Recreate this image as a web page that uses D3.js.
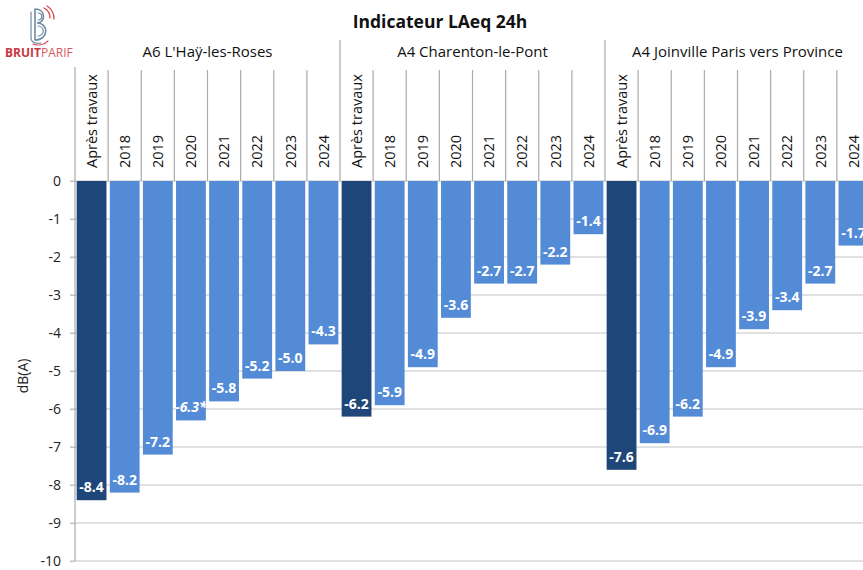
<!DOCTYPE html>
<html>
<head>
<meta charset="utf-8">
<script src="https://cdn.jsdelivr.net/npm/d3@7"></script>
<style>
  html, body { margin: 0; padding: 0; background: #fff; overflow: hidden; }
  svg { display: block; font-family: "Open Sans", sans-serif; }
</style>
</head>
<body>
<svg id="chart" width="863" height="570"></svg>
<script>
// ---- data ----
const title = "Indicateur LAeq 24h";
const yAxisLabel = "dB(A)";
const groups = ["A6 L'Haÿ-les-Roses", "A4 Charenton-le-Pont", "A4 Joinville Paris vers Province"];
const periods = ["Après travaux", "2018", "2019", "2020", "2021", "2022", "2023", "2024"];
const valuesA6Hay = [-8.4, -8.2, -7.2, -6.3, -5.8, -5.2, -5.0, -4.3];
const valuesA4Charenton = [-6.2, -5.9, -4.9, -3.6, -2.7, -2.7, -2.2, -1.4];
const valuesA4Joinville = [-7.6, -6.9, -6.2, -4.9, -3.9, -3.4, -2.7, -1.7];
const notesA6Hay = ["", "", "", "*", "", "", "", ""];
const notesA4Charenton = ["", "", "", "", "", "", "", ""];
const notesA4Joinville = ["", "", "", "", "", "", "", ""];
const yTicks = [0, -1, -2, -3, -4, -5, -6, -7, -8, -9, -10];

const seriesValues = [valuesA6Hay, valuesA4Charenton, valuesA4Joinville];
const seriesNotes = [notesA6Hay, notesA4Charenton, notesA4Joinville];
const rows = [];
groups.forEach((g, gi) => periods.forEach((p, pi) => {
  rows.push({ key: gi + "|" + pi, group: g, gi, period: p, pi,
              value: seriesValues[gi][pi], note: seriesNotes[gi][pi] });
}));

// ---- layout ----
const svg = d3.select("#chart");
const W = 863;
const left = 75, right = 870, top0 = 181, bottom = 561;
const darkBlue = "#1f4679", lightBlue = "#538bd6";
const gridColor = "#c4c4c4", sepColor = "#ababab";

const xCell = d3.scaleBand().domain(rows.map(d => d.key)).range([left, right]).padding(0);
const xBar = d3.scaleBand().domain(rows.map(d => d.key)).range([left, right])
  .paddingInner(0.1).paddingOuter(0.05);
const y = d3.scaleLinear().domain([-10, 0]).range([bottom, top0]);
const fmt = v => (v < 0 ? "-" : "") + Math.abs(v).toFixed(1);

// gridlines
svg.append("g").selectAll("line").data(yTicks).join("line")
  .attr("x1", left - 5).attr("x2", W).attr("y1", d => y(d)).attr("y2", d => y(d))
  .attr("stroke", gridColor).attr("stroke-width", 1.2);

// y axis
const yAxis = d3.axisLeft(y).tickValues(yTicks).tickSize(5).tickPadding(9);
const gy = svg.append("g").attr("transform", `translate(${left},0)`).call(yAxis);
gy.select(".domain").remove();
gy.selectAll(".tick line").attr("stroke", gridColor).attr("stroke-width", 1.2);
gy.selectAll(".tick text").attr("font-size", 14).attr("fill", "#222")
  .attr("font-family", "Open Sans, sans-serif").text(d => d === 0 ? "0" : "-" + Math.abs(d));

// bars
svg.append("g").selectAll("rect").data(rows).join("rect")
  .attr("x", d => xBar(d.key)).attr("width", xBar.bandwidth())
  .attr("y", y(0)).attr("height", d => y(d.value) - y(0))
  .attr("fill", d => d.pi === 0 ? darkBlue : lightBlue);

// value labels
svg.append("g").selectAll("text").data(rows).join("text")
  .attr("x", d => xBar(d.key) + xBar.bandwidth() / 2)
  .attr("y", d => y(d.value) - 8)
  .attr("text-anchor", "middle")
  .attr("font-size", 14).attr("font-weight", "bold").attr("fill", "#fff")
  .attr("font-style", d => d.note ? "italic" : "normal")
  .text(d => fmt(d.value) + d.note);

// axis vertical line
svg.append("line").attr("x1", left).attr("x2", left).attr("y1", 67).attr("y2", bottom)
  .attr("stroke", sepColor).attr("stroke-width", 1.2);

// category separators (top area)
const sepRows = rows.filter(d => d.pi > 0);
svg.append("g").selectAll("line").data(sepRows).join("line")
  .attr("x1", d => xCell(d.key)).attr("x2", d => xCell(d.key))
  .attr("y1", 70).attr("y2", top0)
  .attr("stroke", sepColor).attr("stroke-width", 1.2);
// group separators
const groupStarts = rows.filter(d => d.pi === 0 && d.gi > 0);
svg.append("g").selectAll("line").data(groupStarts).join("line")
  .attr("x1", d => xCell(d.key)).attr("x2", d => xCell(d.key))
  .attr("y1", 40).attr("y2", top0)
  .attr("stroke", sepColor).attr("stroke-width", 1.2);

// category labels (rotated, reading bottom to top)
svg.append("g").selectAll("text").data(rows).join("text")
  .attr("transform", d => `translate(${xCell(d.key) + xCell.bandwidth() / 2},168) rotate(-90)`)
  .attr("text-anchor", "start").attr("dy", "0.36em")
  .attr("font-size", 14.5).attr("fill", "#111")
  .text(d => d.period);

// group labels
svg.append("g").selectAll("text").data(groups).join("text")
  .attr("x", (g, gi) => {
    const a = xCell(gi + "|0"), b = xCell(gi + "|" + (periods.length - 1)) + xCell.bandwidth();
    return (a + b) / 2;
  })
  .attr("y", 57).attr("text-anchor", "middle")
  .attr("font-size", 15).attr("fill", "#111")
  .text(d => d);

// title
svg.append("text").attr("x", 440).attr("y", 28).attr("text-anchor", "middle")
  .attr("font-size", 17.5).attr("font-weight", "bold").attr("fill", "#111")
  .text(title);

// y axis label
svg.append("text").attr("transform", "translate(28,376) rotate(-90)")
  .attr("text-anchor", "middle").attr("font-size", 14).attr("fill", "#222")
  .text(yAxisLabel);

// logo
const logo = svg.append("g");
logo.append("rect").attr("x", 0).attr("y", 0).attr("width", 74).attr("height", 64).attr("fill", "#fff");
const icon = logo.append("g").attr("fill", "none").attr("stroke-linecap", "round");
icon.append("path").attr("d", "M35 9 L35 40 M35 9 C46 9 46 23 37 23 C49 23 49 40 35 40")
  .attr("stroke", "#6f8aa6").attr("stroke-width", 1.6);
icon.append("path").attr("d", "M38 13 C43 13 43 20 38 20 M38 26 C45 26 45 36 38 36")
  .attr("stroke", "#6f8aa6").attr("stroke-width", 1.2);
icon.append("path").attr("d", "M31 12 L31 38 C31 43 38 44 41 43")
  .attr("stroke", "#6f8aa6").attr("stroke-width", 1.2);
icon.append("path").attr("d", "M44 8 C48 10 50 14 50 18").attr("stroke", "#d9474f").attr("stroke-width", 1.3);
icon.append("path").attr("d", "M47 6 C52 9 54 14 54 19").attr("stroke", "#d9474f").attr("stroke-width", 1.3);
icon.append("path").attr("d", "M33 44 C38 46 44 45 48 41").attr("stroke", "#d9474f").attr("stroke-width", 1.1);
const lt = logo.append("text").attr("x", 5).attr("y", 57).attr("font-size", 12);
lt.append("tspan").attr("font-weight", "bold").attr("fill", "#c8353d").text("BRUIT");
lt.append("tspan").attr("fill", "#d8585e").text("PARIF");
</script>
</body>
</html>
